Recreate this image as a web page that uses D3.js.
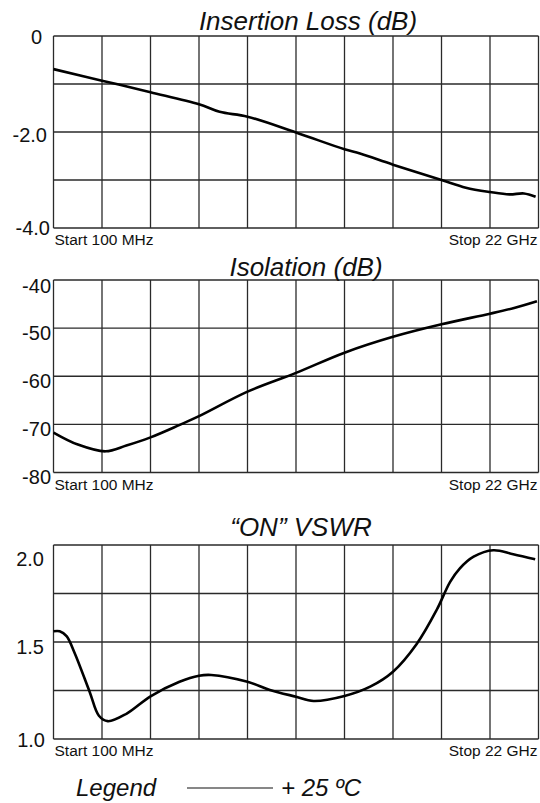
<!DOCTYPE html>
<html>
<head>
<meta charset="utf-8">
<script src="https://cdn.jsdelivr.net/npm/d3@7"></script>
<style>
  body { margin: 0; background: #fff; }
  svg { display: block; font-family: "Liberation Sans", Arial, Helvetica, sans-serif; }
</style>
</head>
<body>
<script>

// frequency axis, GHz (Start 100 MHz .. Stop 22 GHz)
let freqStart = 0.1;
let freqStop = 22;

// Insertion Loss (dB)
let ilFreq = [0.1, 2.29, 4.48, 6.67, 7.6, 8.86, 11.05, 13.24, 13.94, 15.43, 17.62, 18.72, 19.81, 20.69, 21.34, 21.87];
let ilLoss = [-0.69, -0.93, -1.17, -1.42, -1.58, -1.68, -2.01, -2.36, -2.45, -2.68, -3.0, -3.16, -3.25, -3.3, -3.28, -3.35];
let ilTicks = [0, -2, -4];
let ilTickLabels = ["0", "-2.0", "-4.0"];

// Isolation (dB)
let isoFreq = [0.1, 1.2, 2.45, 3.39, 4.48, 5.8, 6.67, 8.86, 11.05, 13.24, 15.43, 17.62, 19.81, 20.9, 21.93];
let isoValue = [-71.7, -74.2, -75.6, -74.4, -72.7, -70.1, -68.3, -63.2, -59.3, -55.1, -51.8, -49.2, -47.0, -45.8, -44.4];
let isoTicks = [-40, -50, -60, -70, -80];
let isoTickLabels = ["-40", "-50", "-60", "-70", "-80"];

// "ON" VSWR
let vswrFreq = [0.1, 0.38, 0.69, 1.03, 1.73, 2.15, 2.55, 3.39, 4.48, 5.79, 6.67, 7.22, 8.86, 9.87, 11.05, 11.84, 13.24, 14.4, 15.43, 16.5, 17.4, 18.01, 18.45, 19.07, 19.96, 20.86, 21.85];
let vswrValue = [1.555, 1.555, 1.53, 1.45, 1.244, 1.12, 1.092, 1.13, 1.22, 1.295, 1.326, 1.33, 1.295, 1.253, 1.218, 1.196, 1.222, 1.27, 1.347, 1.49, 1.665, 1.81, 1.88, 1.94, 1.973, 1.952, 1.926];
let vswrTicks = [2.0, 1.5, 1.0];
let vswrTickLabels = ["2.0", "1.5", "1.0"];

let width = 540, height = 803;
let left = 53.5, right = 538.5;

let svg = d3.select("body").append("svg")
    .attr("width", width)
    .attr("height", height);

let x = d3.scaleLinear().domain([freqStart, freqStop]).range([left, right]);
let xGrid = d3.range(11).map(i => freqStart + i * (freqStop - freqStart) / 10);

function drawPanel(p)
{
    let y = d3.scaleLinear().domain(p.domain).range([p.bottom, p.top]);
    let g = svg.append("g");

    // grid
    g.selectAll("line.v").data(xGrid).enter().append("line")
        .attr("x1", d => x(d)).attr("x2", d => x(d))
        .attr("y1", p.top).attr("y2", p.bottom)
        .attr("stroke", "#2a2a2a").attr("stroke-width", 1.3);
    g.selectAll("line.h").data(p.grid).enter().append("line")
        .attr("x1", left).attr("x2", right)
        .attr("y1", d => y(d)).attr("y2", d => y(d))
        .attr("stroke", "#2a2a2a").attr("stroke-width", 1.3);

    // tick labels
    g.selectAll("text.tick").data(p.ticks).enter().append("text")
        .attr("x", (d, i) => p.labelX[i])
        .attr("y", (d, i) => y(d) + p.labelDy[i])
        .attr("text-anchor", "end")
        .attr("dominant-baseline", "central")
        .attr("font-size", 20)
        .attr("fill", "#111")
        .text((d, i) => p.tickLabels[i]);

    // title
    g.append("text")
        .attr("x", p.titleX).attr("y", p.titleY)
        .attr("text-anchor", "middle")
        .attr("font-size", 26)
        .attr("font-style", "italic")
        .attr("fill", "#111")
        .text(p.title);

    // start / stop
    g.append("text")
        .attr("x", left + 1).attr("y", p.bottom + 17)
        .attr("font-size", 15.5).attr("fill", "#111")
        .text("Start 100 MHz");
    g.append("text")
        .attr("x", right - 1).attr("y", p.bottom + 17)
        .attr("text-anchor", "end")
        .attr("font-size", 15.5).attr("fill", "#111")
        .text("Stop 22 GHz");

    // trace
    let line = d3.line()
        .x(d => x(d[0]))
        .y(d => y(d[1]))
        .curve(d3.curveCatmullRom.alpha(0.5));
    g.append("path")
        .datum(d3.zip(p.freq, p.values))
        .attr("d", line)
        .attr("fill", "none")
        .attr("stroke", "#000")
        .attr("stroke-width", 2.6)
        .attr("stroke-linejoin", "round");
}

drawPanel({
    title: "Insertion Loss (dB)", titleX: 308, titleY: 30,
    top: 36, bottom: 228, domain: [-4, 0], grid: d3.range(-4, 0.01, 1),
    ticks: ilTicks, tickLabels: ilTickLabels,
    labelX: [42, 47, 50], labelDy: [1, 3, 0],
    freq: ilFreq, values: ilLoss
});

drawPanel({
    title: "Isolation (dB)", titleX: 306, titleY: 276,
    top: 280, bottom: 472.5, domain: [-80, -40], grid: d3.range(-80, -39.9, 10),
    ticks: isoTicks, tickLabels: isoTickLabels,
    labelX: [51, 51, 51, 51, 51], labelDy: [6, 5, 5, 5, 4],
    freq: isoFreq, values: isoValue
});

drawPanel({
    title: "\u201cON\u201d VSWR", titleX: 301, titleY: 536,
    top: 545, bottom: 739, domain: [1.0, 2.0], grid: d3.range(1.0, 2.01, 0.25),
    ticks: vswrTicks, tickLabels: vswrTickLabels,
    labelX: [44, 44, 45], labelDy: [14, 5, 1],
    freq: vswrFreq, values: vswrValue
});

// legend
svg.append("text")
    .attr("x", 76).attr("y", 796)
    .attr("font-size", 24).attr("font-style", "italic").attr("fill", "#111")
    .text("Legend");
svg.append("line")
    .attr("x1", 187).attr("x2", 273)
    .attr("y1", 788).attr("y2", 788)
    .attr("stroke", "#111").attr("stroke-width", 1.2);
svg.append("text")
    .attr("x", 281).attr("y", 796)
    .attr("font-size", 24).attr("font-style", "italic").attr("fill", "#111")
    .text("+ 25 \u00baC");

</script>
</body>
</html>
